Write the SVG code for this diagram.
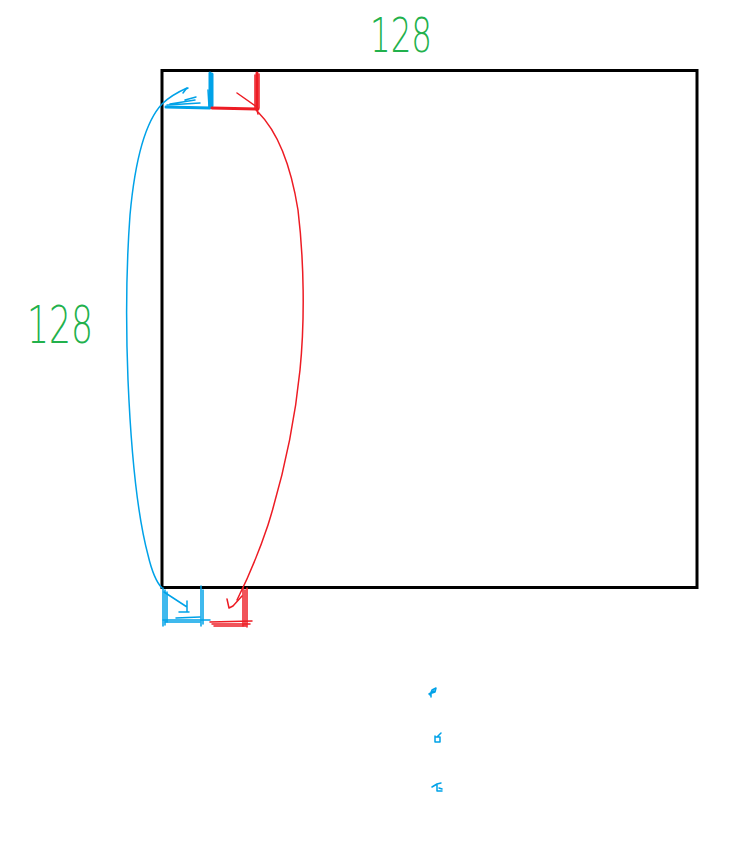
<svg xmlns="http://www.w3.org/2000/svg" width="733" height="865" viewBox="0 0 733 865">
<style>
.b{fill:none;stroke:#00a2e8;stroke-width:1.5;stroke-linecap:round;stroke-linejoin:round}
.r{fill:none;stroke:#ed1c24;stroke-width:1.5;stroke-linecap:round;stroke-linejoin:round}
.bt{stroke-width:3}
.lbl{font-family:"DejaVu Sans","Liberation Sans",Arial,sans-serif;fill:#22b14c;font-weight:200}
</style>
<rect width="733" height="865" fill="#fff"/>
<g id="square">
<rect x="162" y="70.5" width="535" height="517" fill="none" stroke="#000" stroke-width="3"/>
</g>
<g id="label-top"><text class="lbl" x="401" y="52" font-size="48" text-anchor="middle" textLength="62" lengthAdjust="spacingAndGlyphs">128</text></g>
<g id="label-left"><text class="lbl" x="60" y="343" font-size="52" text-anchor="middle" textLength="66" lengthAdjust="spacingAndGlyphs">128</text></g>
<g id="blue-top">
<path class="b bt" d="M210 73 L210 107 M212 74 L212 106"/>
<path class="b bt" d="M166 107 L210 108"/>
<path class="b" d="M167 105 L200 103 M170 104 L195 100 M185 100 L196 97 M208 90 L209 107"/>
<path class="b" d="M183 93 L186 89 L188 88"/>
</g>
<g id="red-top">
<path class="r bt" d="M257 73 L257 110"/>
<path class="r" d="M255 75 L255 108 M259 74 L259 108"/>
<path class="r bt" d="M212 108 L258 109"/>
<path class="r" d="M237 93 L257 107 M257 110 L258 114"/>
</g>
<g id="blue-bottom">
<path class="b" d="M163 588 L163 626 M165 590 L165 625 M167 592 L167 622 M201 586 L201 626 M203 590 L203 624"/>
<path class="b" d="M163 620 L210 620 M165 622 L200 622 M176 618 L200 617"/>
<path class="b" d="M164 592 L187 607 M187 601 L187 612 M179 612 L189 612"/>
</g>
<g id="red-bottom">
<path class="r" d="M243 588 L243 626 M245 590 L245 625 M247 588 L247 627"/>
<path class="r" d="M210 622 L252 621 M212 624 L250 624 M214 626 L246 626"/>
<path class="r" d="M227 599 L229 608 L233 606 L242 596"/>
</g>
<g id="connectors">
<path class="b" d="M187 88 C178 92 170 96 162 104 C145 122 135 160 130 215 C126 270 126 330 128 380 C131 450 136 510 148 555 C152 572 156 582 162 588"/>
<path class="r" d="M258 112 C276 130 290 160 298 210 C304 260 305 320 300 370 C294 430 282 480 268 525 C258 555 248 578 237 600"/>
</g>
<g id="marks">
<path class="b" d="M430 695 L432 690 L436 688 L435 692 L432 693 M431 692 L431 697 M429 694 L434 691"/>
<path class="b" d="M435 736 L435 742 L440 742 L440 737 L435 737 M437 737 L441 733"/>
<path class="b" d="M432 787 L437 784 L441 783 M437 785 L437 791 L442 791 M439 788 L442 789"/>
</g>
</svg>
